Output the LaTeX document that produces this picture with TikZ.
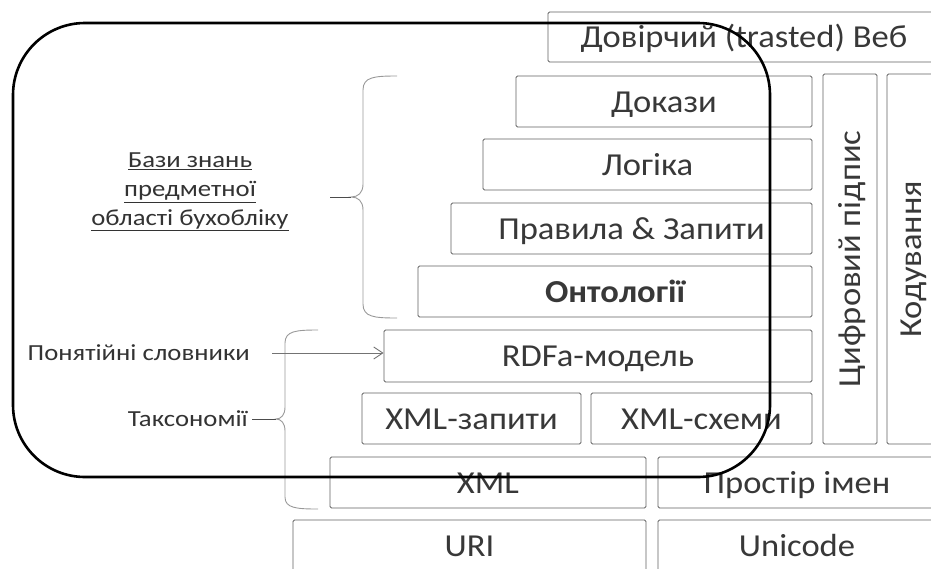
\documentclass[tikz,border=0pt]{standalone}
\usepackage{fontspec}
\setmainfont{Carlito}
\newfontfamily\boxfam[FakeStretch=1.08]{Carlito}
\newfontfamily\lblfam[FakeStretch=1.16]{Carlito}
\usetikzlibrary{arrows.meta}
\newcommand\boxfont{\boxfam\fontsize{32}{38}\selectfont}
\newcommand\lblfont{\lblfam\fontsize{23}{29}\selectfont}
\begin{document}
\begin{tikzpicture}[x=1pt,y=-1pt,
  box/.style={draw=black!62, line width=0.9pt, rounded corners=1.5pt, fill=white,
              text=black!78, font=\boxfont, inner sep=0pt, anchor=center,
              text height=21pt, text depth=0pt},
  lbl/.style={text=black!80, font=\lblfont, inner sep=0pt},
  bracec/.style={draw=black!40, line width=0.9pt},
  leader/.style={draw=black!70, line width=0.9pt},
  arrowc/.style={draw=black!55, line width=0.9pt, -{Straight Barb[length=9pt,width=12pt]}},
  frame/.style={draw=black, line width=2.6pt, rounded corners=72pt}
]
\useasboundingbox (0,0) rectangle (931,568);

% layer boxes
\node[box, minimum width=392pt, minimum height=50pt] (trust) at (744,37) {Довірчий (trasted) Веб};
\node[box, minimum width=296pt, minimum height=51pt] (dokazy) at (664,101.5) {Докази};
\node[box, minimum width=329pt, minimum height=51pt] (logika) at (647.5,164.5) {Логіка};
\node[box, minimum width=361pt, minimum height=51pt] (pravyla) at (631.5,228.5) {Правила \& Запити};
\node[box, minimum width=394pt, minimum height=51pt] (onto) at (615,291.5) {\bfseries Онтології};
\node[box, minimum width=428pt, minimum height=52pt] (rdfa) at (598,356) {RDFa-модель};
\node[box, minimum width=219pt, minimum height=51pt] (xmlq) at (471.5,418.5) {XML-запити};
\node[box, minimum width=221pt, minimum height=51pt] (xmls) at (701.5,418.5) {XML-схеми};
\node[box, rotate=90, minimum width=370pt, minimum height=54pt, text height=20pt] (cyfr) at (850,259) {Цифровий підпис};
\node[box, rotate=90, minimum width=370pt, minimum height=52pt, text height=17pt] (kod) at (913,259) {Кодування};
\node[box, minimum width=316pt, minimum height=51pt] (xml) at (488,482.5) {XML};
\node[box, minimum width=278pt, minimum height=51pt] (prost) at (797,482.5) {Простір імен};
\node[box, minimum width=353pt, minimum height=51pt] (uri) at (469.5,545.5) {URI};
\node[box, minimum width=278pt, minimum height=51pt] (unic) at (797,545.5) {Unicode};

% labels
\node[lbl, align=center] (bazy) at (190,192)
  {\underline{Бази знань}\\ \underline{предметної}\\ \underline{області бухобліку}};
\node[lbl, anchor=east] (ponyat) at (250,353) {Понятійні словники};
\node[lbl, anchor=east] (taks) at (248,419) {Таксономії};

% braces
\coordinate (tipA) at (351,197);
\coordinate (tipB) at (276,419);
\draw[bracec] (397,76) .. controls (374,76) and (363,77) .. (363,90) -- (363,184)
  .. controls (363,193) and (358,197) .. (tipA)
  .. controls (358,197) and (363,201) .. (363,210) -- (363,304)
  .. controls (363,317) and (374,318) .. (397,318);
\draw[bracec] (318,330) .. controls (296,330) and (285,331) .. (285,343) -- (285,407)
  .. controls (285,415) and (281,419) .. (tipB)
  .. controls (281,419) and (285,423) .. (285,431) -- (285,497)
  .. controls (285,508) and (296,509) .. (318,509);

% leaders and arrow
\coordinate (bazyend) at (330,197);
\draw[leader] (bazyend) -- (tipA);
\draw[leader, shorten <=4pt] (taks.east) -- (tipB);
\coordinate (arrstart) at (272,353);
\draw[arrowc] (arrstart) -- (arrstart -| rdfa.west);

% big rounded frame
\draw[frame] (13,23) rectangle (770,477);
\end{tikzpicture}
\end{document}
